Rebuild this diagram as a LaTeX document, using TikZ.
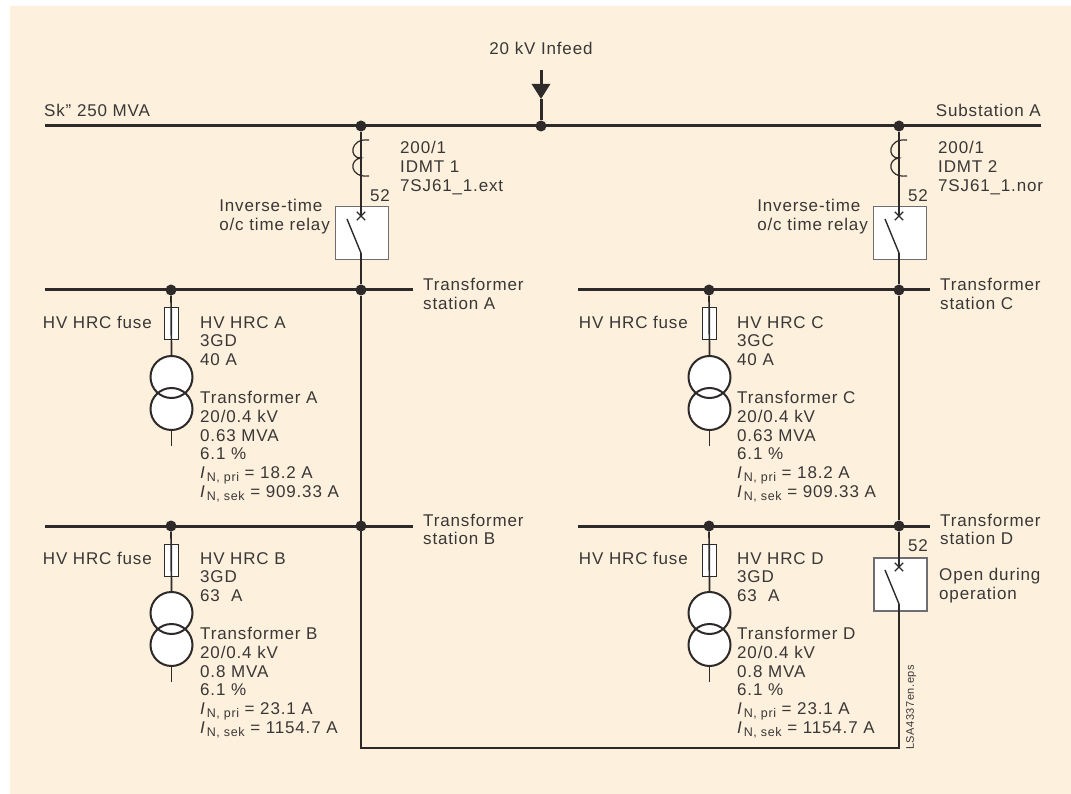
\documentclass[tikz,border=0pt]{standalone}
\usepackage{fontspec}
\setmainfont[LetterSpace=5]{Liberation Sans}
\usetikzlibrary{shapes.misc, arrows.meta, backgrounds}
\definecolor{cream}{HTML}{FDF0DC}
\definecolor{ink}{HTML}{2E2A2A}
\definecolor{lblink}{HTML}{3A3737}
\definecolor{boxline}{HTML}{6E6E72}
\tikzset{
	bus/.style={ink, line width=3pt},
	wire/.style={ink, line width=1.7pt},
	coil/.style={ink, line width=1.2pt},
	blade/.style={ink, line width=1.4pt},
	feed/.style={ink, line width=3pt},
	dot/.style={circle, fill=ink, inner sep=0pt, minimum size=11pt},
	relaybox/.style={draw=boxline, line width=1.1pt, fill=white, inner sep=0pt, minimum size=53pt},
	fusebox/.style={draw=ink, line width=1pt, fill=white, inner sep=0pt, minimum width=14pt, minimum height=32pt},
	winding/.style={circle, draw=ink, line width=2pt, inner sep=0pt, minimum size=42pt},
	trip/.style={cross out, draw=ink, line width=1.3pt, inner sep=0pt, minimum size=7pt},
	lbl/.style={text=lblink, inner sep=0pt, align=left, anchor=north west, font=\fontsize{17}{18.8}\selectfont},
	lblr/.style={lbl, align=right, anchor=north east},
}
\newcommand{\inom}[1]{\textit{I}\kern1pt\raisebox{-3pt}{\fontsize{12.5}{12.5}\selectfont N, #1}}
\begin{document}
\begin{tikzpicture}[x=1pt, y=-1pt]
		\useasboundingbox (0,0) rectangle (1071,794);
		\begin{scope}[on background layer]
		\fill[cream] (10,6) rectangle (1071,794);
		\end{scope}
		
		% incoming busbar
		\coordinate(s1) at (45,126);
		\coordinate(s2) at (1041,126);
		\node(j1) [dot] at (361,126) {};
		\node(j2) [dot] at (541,126) {};
		\node(j3) [dot] at (899,126) {};
		\coordinate(in) at (541,70);
		\coordinate(tip) at (541,99);
		\draw[bus] (s1) -- (s2);
		\draw[feed, -{Triangle[length=15pt, width=18pt]}] (in) -- (tip);
		\draw[feed] (tip) -- (j2);
		\node(infeed) [lbl, anchor=north] at (541,42) {20 kV Infeed};
		\node(sk) [lbl] at (44,104) {Sk”\,\,250 MVA};
		\node(suba) [lblr] at (1041,104) {Substation A};
		
		% station busbars
		\coordinate(a1) at (45,290);
		\coordinate(a2) at (413,290);
		\node(ja1) [dot] at (171,290) {};
		\node(ja2) [dot] at (361,290) {};
		\draw[bus] (a1) -- (a2);
		\node(sta) [lbl] at (423,278) {Transformer\\station A};
		\coordinate(c1) at (578,290);
		\coordinate(c2) at (930,290);
		\node(jc1) [dot] at (709,290) {};
		\node(jc2) [dot] at (899,290) {};
		\draw[bus] (c1) -- (c2);
		\node(stc) [lbl] at (940,278) {Transformer\\station C};
		\coordinate(b1) at (45,526);
		\coordinate(b2) at (413,526);
		\node(jb1) [dot] at (171,526) {};
		\node(jb2) [dot] at (361,526) {};
		\draw[bus] (b1) -- (b2);
		\node(stb) [lbl] at (423,513.5) {Transformer\\station B};
		\coordinate(d1) at (578,526);
		\coordinate(d2) at (930,526);
		\node(jd1) [dot] at (709,526) {};
		\node(jd2) [dot] at (899,526) {};
		\draw[bus] (d1) -- (d2);
		\node(std) [lbl] at (940,513.5) {Transformer\\station D};
		
		% relay 1
		\node(rel1) [relaybox] at (362,233) {};
		\node(x1) [trip] at (361,216) {};
		\coordinate(p1) at (361,253);
		\coordinate(q1) at (347,219);
		\draw[wire] (j1) -- (x1.center);
		\draw[blade] (q1) -- (p1);
		\draw[wire] (p1) -- (ja2);
		\draw[coil] (369,140) .. controls (349,138) and (349,159) .. (361,158) .. controls (349,159) and (349,178) .. (369,176);
		\node(n1) [lbl, anchor=center] at (380,196) {52};
		\node(ct1) [lbl] at (400,141) {200/1\\IDMT 1\\7SJ61\_1.ext};
		\node(inv1) [lblr, align=left] at (330,199) {Inverse-time\\o/c time relay};
		
		% relay 2
		\node(rel2) [relaybox] at (900,233) {};
		\node(x2) [trip] at (899,216) {};
		\coordinate(p2) at (899,253);
		\coordinate(q2) at (885,219);
		\draw[wire] (j3) -- (x2.center);
		\draw[blade] (q2) -- (p2);
		\draw[wire] (p2) -- (jc2);
		\draw[coil] (907,140) .. controls (887,138) and (887,159) .. (899,158) .. controls (887,159) and (887,178) .. (907,176);
		\node(n2) [lbl, anchor=center] at (918,196) {52};
		\node(ct2) [lbl] at (938,141) {200/1\\IDMT 2\\7SJ61\_1.nor};
		\node(inv2) [lblr, align=left] at (868,199) {Inverse-time\\o/c time relay};
		
		% relay 3, open
		\node(rel3) [relaybox] at (900.5,584.5) {};
		\node(x3) [trip] at (899,567) {};
		\coordinate(p3) at (899,604);
		\coordinate(q3) at (885,570);
		\coordinate(r1) at (899,748);
		\coordinate(r2) at (361,748);
		\draw[wire] (jd2) -- (x3.center);
		\draw[blade] (q3) -- (p3);
		\draw[wire] (p3) -- (r1) -- (r2) -- (ja2);
		\draw[wire] (jc2) -- (jd2);
		\node(n3) [lbl, anchor=center] at (918,546) {52};
		\node(open) [lbl] at (939,568) {Open during\\operation};
		\node(eps) [text=lblink, inner sep=0pt, rotate=90, anchor=north west, font=\fontsize{11}{11}\selectfont] at (906,750) {LSA4337en.eps};
		
		% transformer A
		\node(fa) [fusebox] at (171.5,324) {};
		\node(ta1) [winding] at (171.5,377) {};
		\node(ta2) [winding] at (171.5,409) {};
		\coordinate(ea) at (171.5,446);
		\begin{scope}[on background layer]
		\fill[white] (ta1) circle (21pt);
		\fill[white] (ta2) circle (21pt);
		\end{scope}
		\draw[wire] (ja1) -- (ta1.north);
		\draw[wire] (ta2.south) -- (ea);
		\node(fla) [lblr] at (152,316) {HV HRC fuse};
		\node(hva) [lbl] at (200,316) {HV HRC A\\3GD\\40 A};
		\node(tra) [lbl] at (200,391) {Transformer A\\20/0.4 kV\\0.63 MVA\\6.1 \%\\\inom{pri} = 18.2 A\\\inom{sek} = 909.33 A};
		
		% transformer C
		\node(fc) [fusebox] at (709.5,324) {};
		\node(tc1) [winding] at (709.5,377) {};
		\node(tc2) [winding] at (709.5,409) {};
		\coordinate(ec) at (709.5,446);
		\begin{scope}[on background layer]
		\fill[white] (tc1) circle (21pt);
		\fill[white] (tc2) circle (21pt);
		\end{scope}
		\draw[wire] (jc1) -- (tc1.north);
		\draw[wire] (tc2.south) -- (ec);
		\node(flc) [lblr] at (688,316) {HV HRC fuse};
		\node(hvc) [lbl] at (737,316) {HV HRC C\\3GC\\40 A};
		\node(trc) [lbl] at (737,391) {Transformer C\\20/0.4 kV\\0.63 MVA\\6.1 \%\\\inom{pri} = 18.2 A\\\inom{sek} = 909.33 A};
		
		% transformer B
		\node(fb) [fusebox] at (171.5,560) {};
		\node(tb1) [winding] at (171.5,613) {};
		\node(tb2) [winding] at (171.5,645) {};
		\coordinate(eb) at (171.5,682);
		\begin{scope}[on background layer]
		\fill[white] (tb1) circle (21pt);
		\fill[white] (tb2) circle (21pt);
		\end{scope}
		\draw[wire] (jb1) -- (tb1.north);
		\draw[wire] (tb2.south) -- (eb);
		\node(flb) [lblr] at (152,552) {HV HRC fuse};
		\node(hvb) [lbl] at (200,552) {HV HRC B\\3GD\\63\ \ A};
		\node(trb) [lbl] at (200,627) {Transformer B\\20/0.4 kV\\0.8 MVA\\6.1 \%\\\inom{pri} = 23.1 A\\\inom{sek} = 1154.7 A};
		
		% transformer D
		\node(fd) [fusebox] at (709.5,560) {};
		\node(td1) [winding] at (709.5,613) {};
		\node(td2) [winding] at (709.5,645) {};
		\coordinate(ed) at (709.5,682);
		\begin{scope}[on background layer]
		\fill[white] (td1) circle (21pt);
		\fill[white] (td2) circle (21pt);
		\end{scope}
		\draw[wire] (jd1) -- (td1.north);
		\draw[wire] (td2.south) -- (ed);
		\node(fld) [lblr] at (688,552) {HV HRC fuse};
		\node(hvd) [lbl] at (737,552) {HV HRC D\\3GD\\63\ \ A};
		\node(trd) [lbl] at (737,627) {Transformer D\\20/0.4 kV\\0.8 MVA\\6.1 \%\\\inom{pri} = 23.1 A\\\inom{sek} = 1154.7 A};
		\end{tikzpicture}
\end{document}
